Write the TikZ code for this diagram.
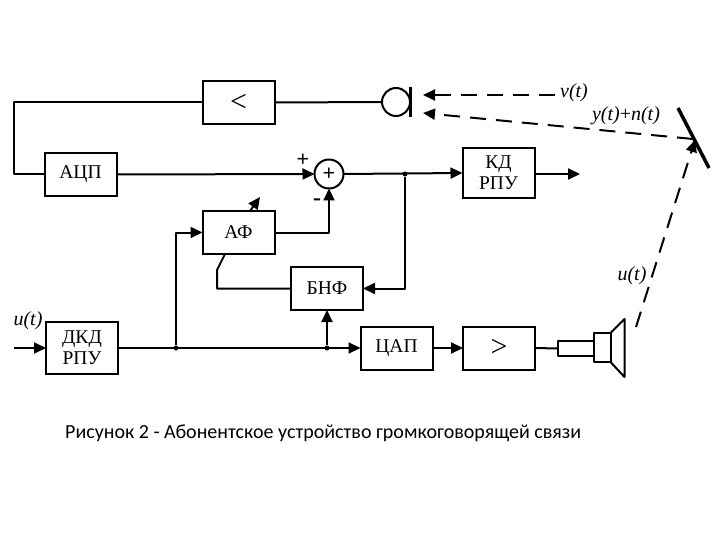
\documentclass[tikz,border=0pt]{standalone}
\usepackage{fontspec}
\setmainfont{Liberation Serif}
\newfontfamily\capfont{Carlito}
\usetikzlibrary{arrows.meta}
\begin{document}
\begin{tikzpicture}[x=1pt, y=-1pt, every node/.style={font=\fontsize{19.5}{20}\selectfont}]
  \tikzstyle{block} = [draw, line width=2pt, outer sep=0pt, minimum width=72pt, minimum height=43pt, align=center, inner sep=1pt]
  \tikzstyle{link} = [line width=2pt, line join=round]
  \tikzstyle{ray} = [link, dash pattern=on 16pt off 10pt]
  \tikzstyle{tip} = [>={Triangle[length=12pt, width=11pt]}]
  \tikzstyle{dot} = [circle, fill, inner sep=0pt, minimum size=5pt]
  \tikzstyle{sig} = [inner sep=0pt, font=\fontsize{20}{20}\selectfont\itshape]
  \useasboundingbox (0,0) rectangle (720,540);
  % blocks
  \node[block] (cmp) at (238.5,102.5) {\fontsize{30}{30}\selectfont <};
  \node[block] (adc) at (80.5,174.5) {АЦП};
  \node[block, minimum height=50pt] (kd) at (498.5,173) {КД\\[1pt]РПУ};
  \node[draw, link, outer sep=0pt, circle, minimum size=29pt, inner sep=0pt, font=\fontsize{22}{22}\selectfont\bfseries] (sum) at (329,174) {+};
  \node[block] (af) at (238.5,232.5) {АФ};
  \node[block] (bnf) at (327,288.5) {БНФ};
  \node[block, minimum height=52pt] (dkd) at (82,348) {ДКД\\[1pt]РПУ};
  \node[block, yshift=0pt] (dac) at (396.5,348) {ЦАП};
  \node[block] (amp) at (499,348) {\fontsize{30}{30}\selectfont >};
  % microphone
  \node[draw, link, outer sep=0pt, circle, minimum size=28pt, inner sep=0pt] (mic) at (396,102) {};
  \draw[link, line width=2.6pt] (410.5,87) -- (410.5,117);
  % speaker
  \node[draw, link, outer sep=0pt, minimum width=36pt, minimum height=15pt, inner sep=0pt, anchor=east] (horn) at (593.5,348.5) {};
  \node[draw, link, outer sep=0pt, minimum width=17pt, minimum height=29pt, inner sep=0pt, anchor=west] (coil) at (593.5,347.5) {};
  \draw[link] (coil.north east) -- (624.5,319) -- (624.5,377) -- (coil.south east);
  % reflector
  \coordinate (refl1) at (678,108);
  \coordinate (refl2) at (709,168);
  \draw[line width=3.5pt] (refl1) -- (refl2);
  % free ends
  \coordinate (in) at (14,348);
  \coordinate (out) at (580,174);
  \coordinate (vend) at (555,95);
  \coordinate (vtip) at (423,95);
  \coordinate (ytip) at (423,113);
  \coordinate (yend) at (693,139);
  \coordinate (uend) at (636,327);
  \coordinate (utip) at (695,140);
  \coordinate (knob1) at (250,211);
  \coordinate (knob2) at (260,197);
  \coordinate (afout) at (225,254);
  % junctions
  \node[dot] (j1) at (405,174) {};
  \node[dot] (j2) at (176,348) {};
  \node[dot] (j3) at (327,348) {};
  % connections
  \draw[link] (mic.west) -- (cmp.east);
  \draw[link] (cmp.west) -- (14,102.5) |- (adc.west);
  \draw[link, tip, ->] (adc.east) -- (sum.west);
  \draw[link, tip, ->] (sum.east) -- (kd.west);
  \draw[link, tip, ->] (kd.east |- out) -- (out);
  \draw[link, tip, ->] (j1) |- (bnf.east);
  \draw[link, tip, ->] (af.east) -| (sum.south);
  \draw[link, tip, ->] (knob1) -- (knob2);
  \draw[link] (afout) -- (217,270) -- (217,288.5) -- (bnf.west);
  \draw[link, tip, ->] (in) -- (dkd.west);
  \draw[link, tip, ->] (dkd.east) -- (dac.west);
  \draw[link, tip, ->] (j2) |- (af.west);
  \draw[link, tip, ->] (j3) -- (bnf.south);
  \draw[link, tip, ->] (dac.east) -- (amp.west);
  \draw[link] (amp.east) -- (horn.west);
  % rays
  \draw[ray, tip, ->] (vend) -- (vtip);
  \draw[ray, tip, ->] (yend) -- (ytip);
  \draw[ray, tip, ->] (uend) -- (utip);
  % labels
  \node[font=\fontsize{22}{22}\selectfont\bfseries] (plus) at (303,160) {+};
  \node[font=\fontsize{24}{24}\selectfont\bfseries] (minus) at (317,202) {-};
  \node[sig] (vlab) at (574,93) {v(t)};
  \node[sig] (ylab) at (626,116) {y(t)\textup{+}n(t)};
  \node[sig] (ulab) at (632,276) {u(t)};
  \node[sig] (inlab) at (28,321) {u(t)};
  \node[inner sep=0pt, anchor=west, font=\fontsize{20}{22}\selectfont\capfont] (title) at (65,433) {Рисунок 2 - Абонентское устройство громкоговорящей связи};
\end{tikzpicture}
\end{document}
